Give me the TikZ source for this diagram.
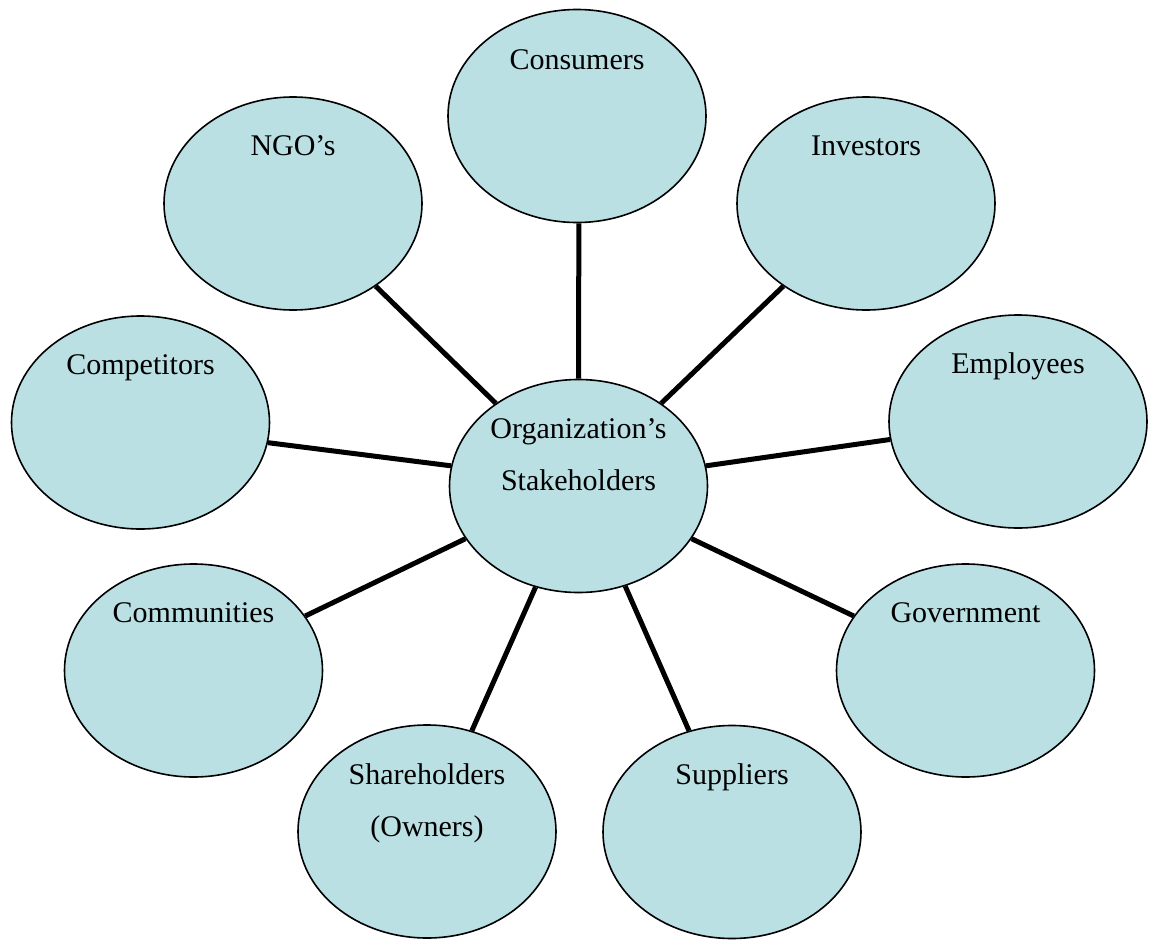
\documentclass[tikz,border=0pt]{standalone}
\usepackage{fontspec}
\setmainfont{Liberation Serif}
\usetikzlibrary{shapes.geometric,backgrounds}
\definecolor{bubble}{HTML}{BAE0E4}
\tikzset{
  bubble/.style={ellipse, draw=black, line width=1.6pt, fill=bubble,
    minimum width=258pt, minimum height=213pt, inner sep=0pt},
  lbl/.style={font=\fontsize{30}{52}\selectfont, text=black, inner sep=0pt,
    align=center, anchor=base},
  link/.style={line width=5pt, draw=black}
}
\begin{document}
\begin{tikzpicture}[x=1pt,y=-1pt]
\useasboundingbox (0,0) rectangle (1152,940);
% bubbles
\node[bubble] (ctr) at (578.5,486) {};
\node[bubble] (cons) at (577,116) {};
\node[bubble] (ngo) at (293,203.5) {};
\node[bubble] (inv) at (866,203.5) {};
\node[bubble] (comp) at (140.5,422.5) {};
\node[bubble] (emp) at (1018,421.5) {};
\node[bubble] (comm) at (193.5,670.5) {};
\node[bubble] (gov) at (965.5,670.5) {};
\node[bubble] (share) at (427,831.5) {};
\node[bubble] (supp) at (732,832) {};
% labels
\node[lbl] (ctrL) at ([yshift=-4pt]ctr.center) {Organization’s\\Stakeholders};
\node[lbl] (consL) at ([yshift=47pt]cons.center) {Consumers};
\node[lbl] (ngoL) at ([yshift=48pt]ngo.center) {NGO’s};
\node[lbl] (invL) at ([yshift=48pt]inv.center) {Investors};
\node[lbl] (compL) at ([yshift=48pt]comp.center) {Competitors};
\node[lbl] (empL) at ([yshift=48pt]emp.center) {Employees};
\node[lbl] (commL) at ([yshift=48pt]comm.center) {Communities};
\node[lbl] (govL) at ([yshift=48pt]gov.center) {Government};
\node[lbl] (shareL) at ([yshift=-4.5pt]share.center) {Shareholders\\(Owners)};
\node[lbl] (suppL) at ([yshift=48pt]supp.center) {Suppliers};
% connectors
\begin{scope}[on background layer]
\draw[link] (ctr.90) -- (cons.-89);
\draw[link] (ctr.135) -- (ngo.-45);
\draw[link] (ctr.45) -- (inv.225);
\draw[link] (ctr.171) -- (comp.-9);
\draw[link] (ctr.9) -- (emp.188);
\draw[link] (ctr.205.6) -- (comm.26.2);
\draw[link] (ctr.-25.4) -- (gov.154.6);
\draw[link] (ctr.247.9) -- (share.66.6);
\draw[link] (ctr.-65.9) -- (supp.113.9);
\end{scope}
\end{tikzpicture}
\end{document}
